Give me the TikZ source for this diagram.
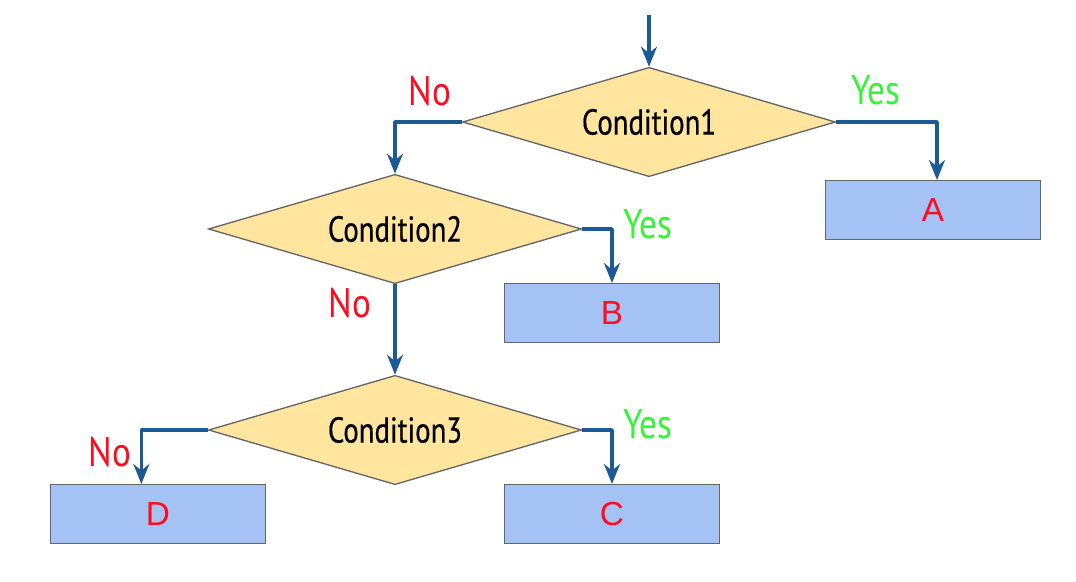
\documentclass[tikz,border=0pt]{standalone}
\usepackage{fontspec}
\setmainfont{Liberation Sans}
\newfontfamily\condfont[FakeStretch=0.8,FakeBold=0.5]{PT Sans}
\newfontfamily\labfont[FakeStretch=0.85]{PT Sans}
\usetikzlibrary{shapes.geometric,arrows.meta}
\definecolor{dfill}{HTML}{FFE59E}
\definecolor{bfill}{HTML}{A4C2F4}
\definecolor{edge}{HTML}{666666}
\definecolor{arrc}{HTML}{1C5A96}
\definecolor{nored}{HTML}{FF0A1E}
\definecolor{yesgreen}{HTML}{33F533}
\tikzset{
  cond/.style={diamond, draw=edge, line width=1pt, fill=dfill, inner sep=0pt,
    minimum width=279.75pt, minimum height=82pt, aspect=3.4,
    font=\condfont\fontsize{27}{30}\selectfont},
  outbox/.style={rectangle, draw=edge, line width=1pt, fill=bfill,
    minimum width=161pt, minimum height=44pt, text=nored,
    font=\fontsize{25}{28}\selectfont},
  arr/.style={draw=arrc, line width=2.7pt, line join=round,
    -{Stealth[length=15pt,width=12pt,inset=5pt]}},
  nolab/.style={text=nored, font=\labfont\fontsize{31}{33}\selectfont, inner sep=0pt},
  yeslab/.style={text=yesgreen, font=\labfont\fontsize{31}{33}\selectfont, inner sep=0pt}
}
\begin{document}
\begin{tikzpicture}[x=0.75pt,y=-0.75pt]
\useasboundingbox (0,0) rectangle (1076,582);
\node[cond] (d1) at (649,122) {Condition1};
\node[cond] (d2) at (395,229) {Condition2};
\node[cond] (d3) at (395,430) {Condition3};
\node[outbox] (a) at (933,210) {A};
\node[outbox] (b) at (612,313) {B};
\node[outbox] (c) at (612,514) {C};
\node[outbox] (dd) at (158,514) {D};
\coordinate (start) at (649,15);
\draw[arr] (start) -- (d1.north);
\draw[arr] (d1.west) -| (d2.north);
\draw[arr] (d1.east) -| ([xshift=3pt]a.north);
\draw[arr] (d2.east) -| (b.north);
\draw[arr] (d2.south) -- (d3.north);
\draw[arr] (d3.west) -| ([xshift=-12.5pt]dd.north);
\draw[arr] (d3.east) -| (c.north);
\node[nolab] (n1) at (430,91) {No};
\node[yeslab] (y1) at (876,90) {Yes};
\node[yeslab] (y2) at (648,224) {Yes};
\node[nolab] (n2) at (350,303) {No};
\node[nolab] (n3) at (110,452) {No};
\node[yeslab] (y3) at (648,424) {Yes};
\end{tikzpicture}
\end{document}
